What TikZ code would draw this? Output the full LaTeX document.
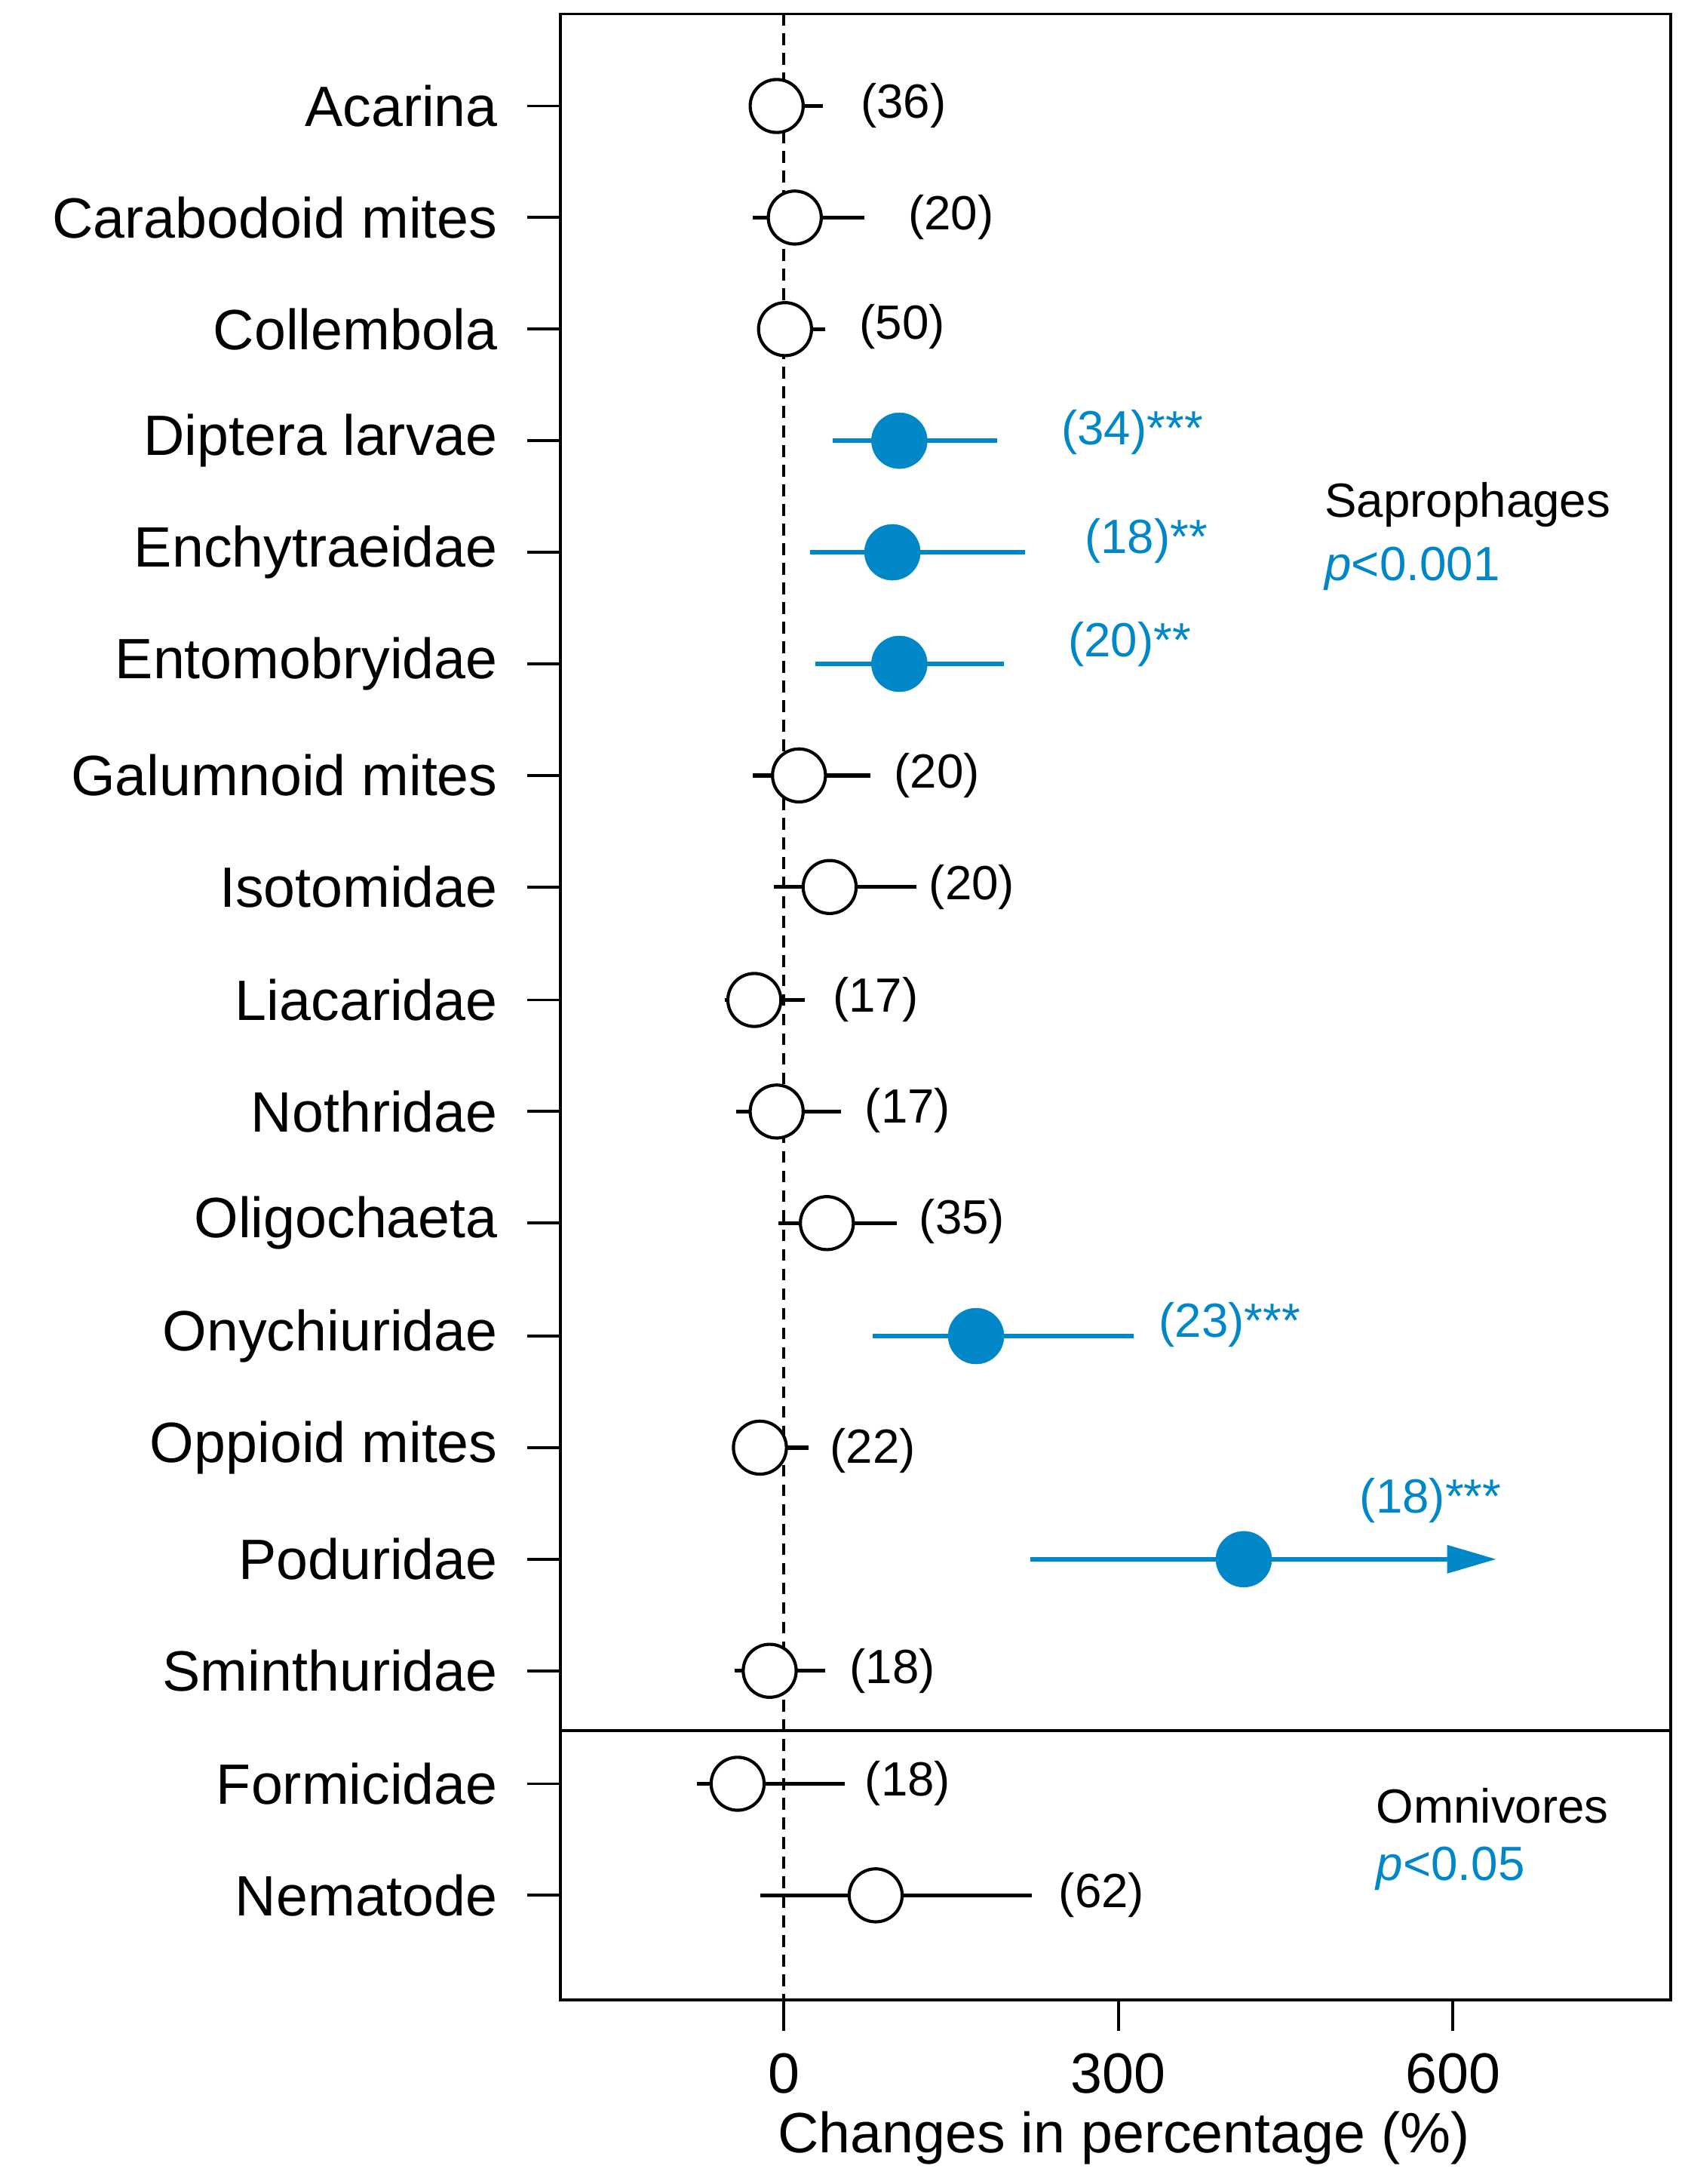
\documentclass[tikz,border=0pt]{standalone}
\usepackage{fontspec}
\setmainfont{Liberation Sans}
\usetikzlibrary{arrows.meta}
\definecolor{sig}{HTML}{0087C8}
\begin{document}
\begin{tikzpicture}[x=0.05cm,y=-0.05cm,
  lab/.style={anchor=east,inner sep=0pt,font=\fontsize{58}{66}\selectfont},
  num/.style={inner sep=0pt,font=\fontsize{49}{56}\selectfont},
  wh/.style={line width=4.2pt},
  opn/.style={circle,draw,line width=3.2pt,fill=white,minimum size=1.9cm,inner sep=0pt},
  fil/.style={circle,fill=sig,draw=sig,minimum size=2cm,inner sep=0pt}]
\useasboundingbox (0,0) rectangle (1206,1566);
\draw[line width=3pt] (402,10) rectangle (1198,1434);
\draw[line width=3pt] (402,1241) -- (1198,1241);
\draw[line width=2.6pt,dash pattern=on 12pt off 8pt] (562,10) -- (562,1434);
\foreach \x/\t in {562/0,802/300,1042/600}{
  \draw[line width=3pt] (\x,1434) -- (\x,1456);
  \node[num,font=\fontsize{58}{66}\selectfont] (t\t) at (\x,1487) {\t};}
\node[inner sep=0pt,font=\fontsize{58}{66}\selectfont] (xt) at (806,1533) {Changes in percentage (\%)};
\foreach \y/\n/\a/\b/\c/\l/\lx/\col/\ly/\k in {
 76/Acarina/537/590/557/(36)/648/black/76/o,
 156/Carabodoid mites/540/620/570/(20)/682/black/156/o,
 236/Collembola/543/592/563/(50)/647/black/234/o,
 316/Diptera larvae/597/715/645/(34)***/812/sig/310/f,
 396/Enchytraeidae/581/735/640/(18)**/822/sig/388/f,
 476/Entomobryidae/585/720/645/(20)**/810/sig/462/f,
 556/Galumnoid mites/540/624/573/(20)/672/black/556/o,
 636/Isotomidae/555/657/595/(20)/697/black/636/o,
 717/Liacaridae/520/577/541/(17)/628/black/717/o,
 797/Nothridae/528/603/557/(17)/651/black/796/o,
 877/Oligochaeta/558/643/593/(35)/690/black/876/o,
 958/Onychiuridae/626/813/700/(23)***/882/sig/950/f,
 1038/Oppioid mites/525/580/545/(22)/626/black/1040/o,
 1198/Sminthuridae/527/592/552/(18)/640/black/1198/o,
 1279/Formicidae/500/606/529/(18)/651/black/1279/o,
 1359/Nematode/545/740/628/(62)/790/black/1359/o}{
  \node[lab] (L\y) at (357,\y) {\n};
  \draw[line width=3pt] (378,\y) -- (402,\y);
  \coordinate (A\y) at (\a,\y); \coordinate (B\y) at (\b,\y);
  \draw[wh,draw=\col] (A\y) -- (B\y);
  \if\k o\node[opn] (C\y) at (\c,\y) {};\else\node[fil] (C\y) at (\c,\y) {};\fi
  \node[num,text=\col] (N\y) at (\lx,\ly) {\l};}
% Poduridae
\node[lab] (L1118) at (357,1118) {Poduridae};
\draw[line width=3pt] (378,1118) -- (402,1118);
\coordinate (A1118) at (739,1118); \coordinate (B1118) at (1073,1118);
\draw[wh,draw=sig,-{Triangle[length=50pt,width=28pt]}] (A1118) -- (B1118);
\node[fil] (C1118) at (892,1118) {};
\node[num,text=sig] (N1118) at (1026,1076) {(18)***};
\node[num,anchor=west] (sap) at (950,362) {Saprophages};
\node[num,anchor=west,text=sig] (sapp) at (950,408) {\textit{p}<0.001};
\node[num,anchor=west] (omn) at (987,1295) {Omnivores};
\node[num,anchor=west,text=sig] (omnp) at (987,1340) {\textit{p}<0.05};
\end{tikzpicture}
\end{document}
